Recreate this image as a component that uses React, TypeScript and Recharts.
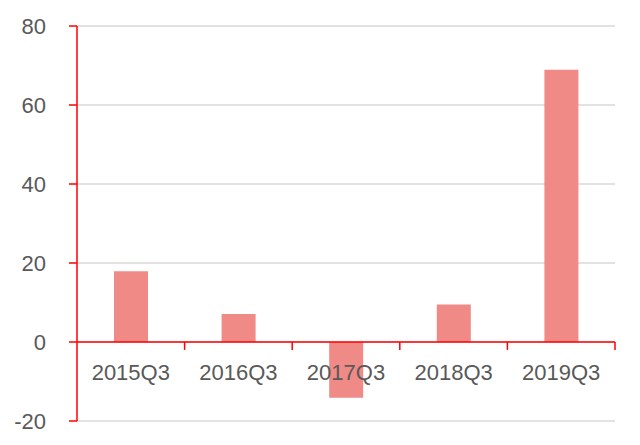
import React from "react";
import { BarChart, Bar, XAxis, YAxis, CartesianGrid, ReferenceLine } from "recharts";

const categories = ["2015Q3", "2016Q3", "2017Q3", "2018Q3", "2019Q3"];
const values = [17.9, 7.1, -14.1, 9.5, 68.9];
const yTicks = [-20, 0, 20, 40, 60, 80];

const data = categories.map((c, i) => ({ name: c, value: values[i] }));

const RED = "#FF0000";
const FONT = "'Liberation Sans', Arial, sans-serif";

export default function App() {
  return (
    <BarChart
      width={624}
      height={429}
      data={data}
      margin={{ top: 18, right: 17, bottom: -14, left: 0 }}
    >
      <CartesianGrid vertical={false} stroke="#D9D9D9" strokeWidth={1.5} />
      <XAxis
        dataKey="name"
        height={30}
        axisLine={false}
        tickLine={false}
        interval={0}
        tick={{ fill: "#595959", fontSize: 22, fontFamily: FONT, dy: -65 }}
      />
      <YAxis
        width={69}
        domain={[-20, 80]}
        ticks={yTicks}
        interval={0}
        axisLine={{ stroke: RED, strokeWidth: 1.5 }}
        tickLine={{ stroke: RED, strokeWidth: 1.5 }}
        tickSize={8}
        tickMargin={23}
        tick={{ fill: "#595959", fontSize: 22, fontFamily: FONT }}
      />
      <Bar dataKey="value" fill="#F08A86" barSize={34} isAnimationActive={false} />
      <ReferenceLine y={0} stroke={RED} strokeWidth={1.5} />
      {categories.map((c) => (
        <ReferenceLine
          key={c}
          position="end"
          segment={[{ x: c, y: 0 }, { x: c, y: -2 }]}
          stroke={RED}
          strokeWidth={1.5}
        />
      ))}
    </BarChart>
  );
}
